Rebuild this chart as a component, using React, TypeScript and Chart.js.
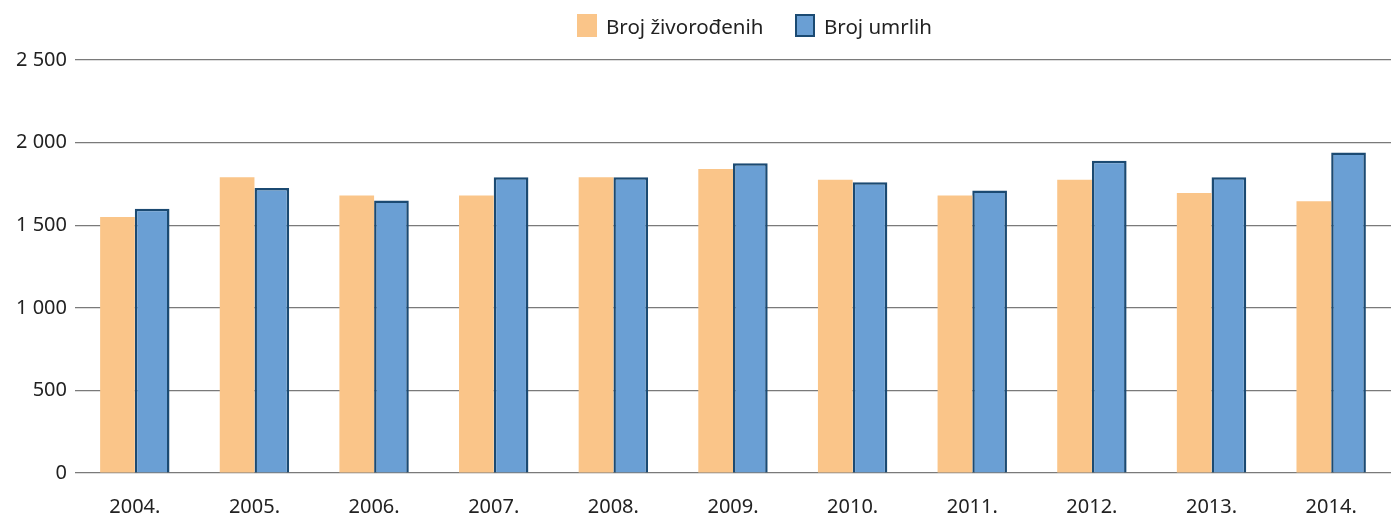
import React, { useEffect, useRef } from "react";
import { Chart, registerables } from "chart.js";

Chart.register(...registerables);

const years = ["2004.", "2005.", "2006.", "2007.", "2008.", "2009.", "2010.", "2011.", "2012.", "2013.", "2014."];
const births = [1550, 1790, 1680, 1680, 1790, 1840, 1775, 1680, 1775, 1695, 1645];
const deaths = [1600, 1725, 1650, 1790, 1790, 1875, 1760, 1710, 1890, 1790, 1940];
const seriesLabels = ["Broj živorođenih", "Broj umrlih"];
const yTicks = [0, 500, 1000, 1500, 2000, 2500];

const FONT = "'Noto Sans', 'Open Sans', sans-serif";
const ORANGE = "#FAC589";
const BLUE = "#6A9FD4";
const BLUE_BORDER = "#1B4A72";

export default function App() {
  const ref = useRef<HTMLCanvasElement | null>(null);
  useEffect(() => {
    document.body.style.margin = "0";
    const chart = new Chart(ref.current!, {
      type: "bar",
      data: {
        labels: years,
        datasets: [
          {
            label: seriesLabels[0],
            data: births,
            backgroundColor: ORANGE,
            borderWidth: 0,
            categoryPercentage: 0.58,
            barPercentage: 1,
          },
          {
            label: seriesLabels[1],
            data: deaths,
            backgroundColor: BLUE,
            borderColor: BLUE_BORDER,
            borderWidth: 2.5,
            categoryPercentage: 0.58,
            barPercentage: 1,
          },
        ],
      },
      options: {
        responsive: false,
        animation: false,
        layout: { padding: { top: 60, right: 0, bottom: 0, left: 0 } },
        plugins: {
          legend: { display: false },
          tooltip: { enabled: false },
        },
        scales: {
          x: {
            grid: { display: false, drawTicks: false },
            border: { display: false },
            afterFit: (axis: any) => {
              axis.height = 45;
            },
            ticks: { color: "#222", font: { family: FONT, size: 20 }, padding: 22, maxRotation: 0 },
          },
          y: {
            min: 0,
            max: 2500,
            afterBuildTicks: (axis: any) => {
              axis.ticks = yTicks.map((v) => ({ value: v }));
            },
            afterFit: (axis: any) => {
              axis.width = 75;
            },
            grid: { color: "#7a7a7a", lineWidth: 1.2, drawTicks: false },
            border: { display: false },
            ticks: {
              color: "#222",
              font: { family: FONT, size: 20 },
              padding: 8,
              callback: (v: any) => String(v).replace(/\B(?=(\d{3})+(?!\d))/g, " "),
            },
          },
        },
      },
    });
    return () => chart.destroy();
  }, []);

  const textStyle: React.CSSProperties = {
    position: "absolute",
    top: 12,
    fontFamily: FONT,
    fontSize: 20.5,
    lineHeight: "28px",
    color: "#222",
    whiteSpace: "nowrap",
  };

  return (
    <div style={{ position: "relative", width: 1391, height: 518 }}>
      <canvas ref={ref} width={1391} height={518} style={{ display: "block" }} />
      <div style={{ position: "absolute", left: 577, top: 14, width: 20, height: 23, background: ORANGE }} />
      <div style={{ ...textStyle, left: 606 }}>{seriesLabels[0]}</div>
      <div
        style={{
          position: "absolute",
          left: 795,
          top: 14,
          width: 20,
          height: 23,
          background: BLUE,
          border: `2.5px solid ${BLUE_BORDER}`,
          boxSizing: "border-box",
        }}
      />
      <div style={{ ...textStyle, left: 824 }}>{seriesLabels[1]}</div>
    </div>
  );
}
